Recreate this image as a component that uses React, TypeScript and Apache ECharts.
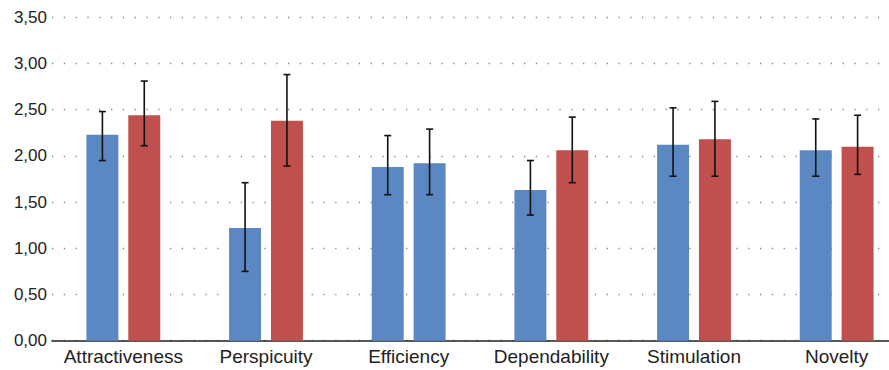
import React, { useEffect, useRef } from "react";
import * as echarts from "echarts";

const categories = ["Attractiveness", "Perspicuity", "Efficiency", "Dependability", "Stimulation", "Novelty"];
const seriesAValues = [2.23, 1.22, 1.88, 1.63, 2.12, 2.06];
const seriesALow = [1.95, 0.75, 1.58, 1.36, 1.78, 1.78];
const seriesAHigh = [2.48, 1.71, 2.22, 1.95, 2.52, 2.40];
const seriesBValues = [2.44, 2.38, 1.92, 2.06, 2.18, 2.10];
const seriesBLow = [2.11, 1.89, 1.58, 1.71, 1.78, 1.80];
const seriesBHigh = [2.81, 2.88, 2.29, 2.42, 2.59, 2.44];
const seriesBColors = ["#C0504D", "#C0504D", "#5B87C3", "#C0504D", "#C0504D", "#C0504D"];
const yTicks = [0, 0.5, 1, 1.5, 2, 2.5, 3, 3.5];

const BLUE = "#5B87C3";
const FONT = "Liberation Sans";
const BAR_RATIO = 0.224;
const GAP_RATIO = 0.31;

export default function App() {
  const ref = useRef<HTMLDivElement>(null);
  useEffect(() => {
    document.body.style.margin = "0";
    if (!ref.current) return;
    const chart = echarts.init(ref.current, undefined, { renderer: "svg" });
    const errData: any[] = [];
    categories.forEach((_, i) => {
      errData.push([i, seriesALow[i], seriesAHigh[i], -1]);
      errData.push([i, seriesBLow[i], seriesBHigh[i], 1]);
    });
    chart.setOption({
      animation: false,
      grid: { left: 52, right: 0, top: 17.3, bottom: 29.3 },
      xAxis: {
        type: "category",
        data: categories,
        axisTick: { show: false },
        axisLine: { lineStyle: { color: "#222", width: 1.5 } },
        axisLabel: { color: "#222", fontFamily: FONT, fontSize: 19, margin: 6, interval: 0 },
      },
      yAxis: {
        type: "value",
        min: 0,
        max: yTicks[yTicks.length - 1],
        interval: 0.5,
        axisLine: { show: false },
        axisTick: { show: false },
        axisLabel: {
          color: "#222",
          fontFamily: FONT,
          fontSize: 17,
          margin: 5,
          formatter: (v: number) => v.toFixed(2).replace(".", ","),
        },
        splitLine: { lineStyle: { color: "#888", width: 1.3, type: [1.3, 10.5] } },
      },
      series: [
        {
          type: "bar",
          data: seriesAValues.map((v) => ({ value: v, itemStyle: { color: BLUE } })),
          barWidth: BAR_RATIO * 100 + "%",
          barGap: GAP_RATIO * 100 + "%",
        },
        {
          type: "bar",
          data: seriesBValues.map((v, i) => ({ value: v, itemStyle: { color: seriesBColors[i] } })),
          barWidth: BAR_RATIO * 100 + "%",
          barGap: GAP_RATIO * 100 + "%",
        },
        {
          type: "custom",
          z: 10,
          data: errData,
          renderItem: (params: any, api: any) => {
            const idx = api.value(0);
            const side = api.value(3);
            const catW = api.size([1, 0])[0];
            const off = side * (catW * BAR_RATIO * (1 + GAP_RATIO)) / 2;
            const lo = api.coord([idx, api.value(1)]);
            const hi = api.coord([idx, api.value(2)]);
            const x = lo[0] + off;
            const cap = 3.5;
            const style = { stroke: "#111", lineWidth: 1.6 };
            return {
              type: "group",
              children: [
                { type: "line", shape: { x1: x, y1: lo[1], x2: x, y2: hi[1] }, style },
                { type: "line", shape: { x1: x - cap, y1: lo[1], x2: x + cap, y2: lo[1] }, style },
                { type: "line", shape: { x1: x - cap, y1: hi[1], x2: x + cap, y2: hi[1] }, style },
              ],
            };
          },
        },
      ],
    });
    return () => chart.dispose();
  }, []);
  return (
    <div style={{ width: 889, height: 370, overflow: "hidden" }}>
      <div ref={ref} style={{ width: 908, height: 370 }} />
    </div>
  );
}
